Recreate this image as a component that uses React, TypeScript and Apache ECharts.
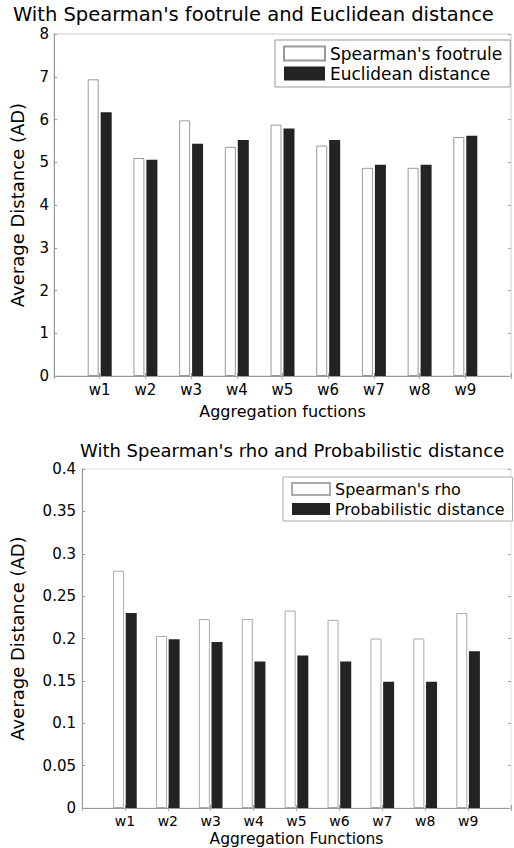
import React, { useEffect, useRef } from "react";
import * as echarts from "echarts";

const categories = ["w1", "w2", "w3", "w4", "w5", "w6", "w7", "w8", "w9"];
const footrule = [6.94, 5.1, 5.98, 5.36, 5.88, 5.39, 4.87, 4.87, 5.59];
const euclidean = [6.17, 5.06, 5.43, 5.52, 5.79, 5.52, 4.94, 4.94, 5.62];
const rho = [0.28, 0.203, 0.223, 0.223, 0.233, 0.222, 0.2, 0.2, 0.23];
const probabilistic = [0.23, 0.199, 0.196, 0.173, 0.18, 0.173, 0.149, 0.149, 0.185];
const topYTicks = { min: 0, max: 8, interval: 1 };
const bottomYTicks = { min: 0, max: 0.4, interval: 0.05 };

const FONT = "DejaVu Sans";
const padded = ["", ...categories, ""];
const pad = (arr: number[]) => [null, ...arr, null];

export default function App() {
  const ref = useRef<HTMLDivElement>(null);
  useEffect(() => {
    if (!ref.current) return;
    const chart = echarts.init(ref.current, null, { renderer: "svg" });
    const xMain = (gridIndex: number, name: string, nameGap: number, labelSize: number, nameSize: number) => ({
      type: "category",
      gridIndex,
      data: padded,
      boundaryGap: false,
      name,
      nameLocation: "middle",
      nameGap,
      nameTextStyle: { fontSize: nameSize, color: "#000", fontFamily: FONT },
      axisLine: { show: true, lineStyle: { color: "#999", width: 1 } },
      axisTick: { show: true, inside: true, length: 3, interval: 0, lineStyle: { color: "#999" } },
      axisLabel: { interval: 0, fontSize: labelSize, color: "#000", margin: 6, fontFamily: FONT },
      splitLine: { show: false },
    });
    const xMirror = (gridIndex: number) => ({
      type: "category",
      gridIndex,
      position: "top",
      data: padded,
      boundaryGap: false,
      axisLine: { show: false },
      axisTick: { show: true, inside: true, length: 3, interval: 0, lineStyle: { color: "#aaa" } },
      axisLabel: { show: false },
      splitLine: { show: false },
    });
    const yMain = (gridIndex: number, ticks: any, nameGap: number, margin: number) => ({
      type: "value",
      gridIndex,
      ...ticks,
      name: "Average Distance (AD)",
      nameLocation: "middle",
      nameGap,
      nameTextStyle: { fontSize: 18, color: "#000", fontFamily: FONT },
      axisLine: { show: true, lineStyle: { color: "#999", width: 1 } },
      axisTick: { show: true, inside: true, length: 3, lineStyle: { color: "#999" } },
      axisLabel: { fontSize: 15, color: "#000", margin, fontFamily: FONT },
      splitLine: { show: false },
    });
    const yMirror = (gridIndex: number, ticks: any) => ({
      type: "value",
      gridIndex,
      position: "right",
      ...ticks,
      axisLine: { show: false },
      axisTick: { show: true, inside: true, length: 3, lineStyle: { color: "#aaa" } },
      axisLabel: { show: false },
      splitLine: { show: false },
    });
    const whiteStyle = { color: "#ffffff", borderColor: "#999", borderWidth: 1 };
    const blackStyle = { color: "#232323", borderColor: "#111", borderWidth: 0 };
    chart.setOption({
      animation: false,
      backgroundColor: "#ffffff",
      textStyle: { fontFamily: FONT, color: "#000" },
      title: [
        {
          text: "With Spearman's footrule and Euclidean distance",
          left: 13,
          top: 4,
          padding: 0,
          textStyle: { fontSize: 19.5, fontWeight: "normal", color: "#000", fontFamily: FONT },
        },
        {
          text: "With Spearman's rho and Probabilistic distance",
          left: 80,
          top: 441,
          padding: 0,
          textStyle: { fontSize: 18, fontWeight: "normal", color: "#000", fontFamily: FONT },
        },
      ],
      legend: [
        {
          data: ["Spearman's footrule", "Euclidean distance"],
          orient: "vertical",
          left: 275,
          top: 40,
          padding: [5, 8, 5, 8],
          itemGap: 3,
          itemWidth: 41,
          itemHeight: 14,
          icon: "rect",
          borderColor: "#999",
          borderWidth: 1,
          backgroundColor: "#fff",
          textStyle: { fontSize: 17, color: "#000", fontFamily: FONT },
        },
        {
          data: ["Spearman's rho", "Probabilistic distance"],
          orient: "vertical",
          left: 283,
          top: 477,
          padding: [4, 8, 4, 8],
          itemGap: 4,
          itemWidth: 38,
          itemHeight: 12,
          icon: "rect",
          borderColor: "#aaa",
          borderWidth: 1,
          backgroundColor: "#fff",
          textStyle: { fontSize: 16, color: "#000", fontFamily: FONT },
        },
      ],
      grid: [
        { left: 49, right: 3, top: 34, bottom: 472, show: true, borderColor: "#ccc", borderWidth: 1 },
        { left: 77, right: 1, top: 469, bottom: 39, show: true, borderColor: "#ddd", borderWidth: 1 },
      ],
      xAxis: [
        xMain(0, "Aggregation fuctions", 27, 15, 16),
        xMirror(0),
        xMain(1, "Aggregation Functions", 23, 14, 15.5),
        xMirror(1),
      ],
      yAxis: [
        yMain(0, topYTicks, 28, 5),
        yMirror(0, topYTicks),
        yMain(1, bottomYTicks, 56, 6),
        yMirror(1, bottomYTicks),
      ],
      series: [
        {
          name: "Spearman's footrule",
          type: "bar",
          xAxisIndex: 0,
          yAxisIndex: 0,
          data: pad(footrule),
          barWidth: 11,
          barGap: "18%",
          itemStyle: whiteStyle,
        },
        {
          name: "Euclidean distance",
          type: "bar",
          xAxisIndex: 0,
          yAxisIndex: 0,
          data: pad(euclidean),
          barWidth: 11,
          barGap: "18%",
          itemStyle: blackStyle,
        },
        {
          name: "Spearman's rho",
          type: "bar",
          xAxisIndex: 2,
          yAxisIndex: 2,
          data: pad(rho),
          barWidth: 11,
          barGap: "15%",
          itemStyle: { color: "#ffffff", borderColor: "#aaa", borderWidth: 1 },
        },
        {
          name: "Probabilistic distance",
          type: "bar",
          xAxisIndex: 2,
          yAxisIndex: 2,
          data: pad(probabilistic),
          barWidth: 11,
          barGap: "15%",
          itemStyle: blackStyle,
        },
      ],
    });
    return () => chart.dispose();
  }, []);
  return (
    <div
      ref={ref}
      style={{ position: "absolute", left: 0, top: 0, width: 514, height: 848, background: "#fff" }}
    />
  );
}
